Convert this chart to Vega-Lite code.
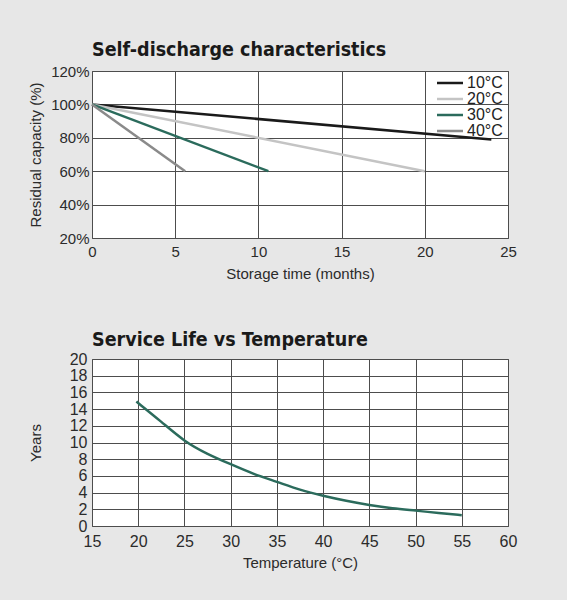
{
  "$schema": "https://vega.github.io/schema/vega-lite/v6.json",
  "background": "#e7e7e7",
  "padding": {"left": 27, "top": 39, "right": 61, "bottom": 29},
  "spacing": 121,
  "bounds": "flush",
  "config": {
    "font": "Liberation Sans",
    "view": {"fill": "white", "stroke": "#555", "strokeWidth": 1},
    "axis": {
      "grid": true,
      "gridColor": "#4d4d4d",
      "gridOpacity": 1,
      "gridWidth": 1,
      "domain": false,
      "ticks": false,
      "labelFlush": false,
      "labelFont": "Liberation Sans",
      "labelFontSize": 15,
      "labelColor": "#2b2b2b",
      "titleFont": "Liberation Sans",
      "titleFontSize": 15,
      "titleFontWeight": "normal",
      "titleColor": "#2b2b2b"
    },
    "title": {
      "font": "DejaVu Sans Condensed",
      "fontSize": 19.5,
      "fontWeight": "bold",
      "color": "#1a1a1a",
      "anchor": "start",
      "frame": "group",
      "baseline": "alphabetic",
      "offset": 4
    }
  },
  "vconcat": [
    {
      "title": "Self-discharge characteristics",
      "width": 416,
      "height": 167,
      "data": {
        "values": [
          {"series": "10°C", "months": 0, "capacity": 100},
          {"series": "10°C", "months": 24, "capacity": 79},
          {"series": "20°C", "months": 0, "capacity": 100},
          {"series": "20°C", "months": 20, "capacity": 60},
          {"series": "30°C", "months": 0, "capacity": 100},
          {"series": "30°C", "months": 10.6, "capacity": 60},
          {"series": "40°C", "months": 0, "capacity": 100},
          {"series": "40°C", "months": 5.6, "capacity": 60}
        ]
      },
      "mark": {"type": "line", "strokeWidth": 2.5},
      "encoding": {
        "x": {
          "field": "months",
          "type": "quantitative",
          "scale": {"domain": [0, 25], "nice": false},
          "axis": {
            "values": [0, 5, 10, 15, 20, 25],
            "labelPadding": 6,
            "title": "Storage time (months)",
            "titleBaseline": "alphabetic",
            "titleY": 40
          }
        },
        "y": {
          "field": "capacity",
          "type": "quantitative",
          "scale": {"domain": [20, 120], "nice": false, "zero": false},
          "axis": {
            "values": [20, 40, 60, 80, 100, 120],
            "labelExpr": "datum.value + '%'",
            "labelPadding": 3,
            "title": "Residual capacity (%)",
            "titleBaseline": "middle",
            "titleX": -57,
            "titleY": 83.5
          }
        },
        "color": {
          "field": "series",
          "type": "nominal",
          "scale": {
            "domain": ["10°C", "20°C", "30°C", "40°C"],
            "range": ["#1a1a1a", "#c4c4c4", "#2b6b5c", "#8a8a8a"]
          },
          "legend": {
            "title": null,
            "orient": "none",
            "legendX": 350,
            "legendY": 4,
            "symbolType": "M-2.6,0L2.6,0",
            "symbolSize": 100,
            "symbolStrokeWidth": 2.5,
            "symbolFillColor": "transparent",
            "labelFontSize": 16,
            "labelColor": "#222",
            "labelOffset": 9,
            "rowPadding": -2
          }
        }
      }
    },
    {
      "title": {"text": "Service Life vs Temperature", "offset": 1},
      "width": 416,
      "height": 167,
      "data": {
        "values": [
          {"temp": 19.8, "years": 14.9},
          {"temp": 22.5, "years": 12.5},
          {"temp": 25, "years": 10.1},
          {"temp": 27.5, "years": 8.6},
          {"temp": 30, "years": 7.4},
          {"temp": 32.5, "years": 6.2},
          {"temp": 35, "years": 5.3},
          {"temp": 37.5, "years": 4.3},
          {"temp": 40, "years": 3.6},
          {"temp": 42.5, "years": 3.0},
          {"temp": 45, "years": 2.5},
          {"temp": 47.5, "years": 2.1},
          {"temp": 50, "years": 1.85},
          {"temp": 52.5, "years": 1.55},
          {"temp": 55, "years": 1.3}
        ]
      },
      "mark": {"type": "line", "color": "#2b6b5c", "strokeWidth": 2.5, "interpolate": "basis"},
      "encoding": {
        "x": {
          "field": "temp",
          "type": "quantitative",
          "scale": {"domain": [15, 60], "nice": false, "zero": false},
          "axis": {
            "values": [15, 20, 25, 30, 35, 40, 45, 50, 55, 60],
            "labelPadding": 7,
            "labelFontSize": 16,
            "title": "Temperature (°C)",
            "titleBaseline": "alphabetic",
            "titleY": 41
          }
        },
        "y": {
          "field": "years",
          "type": "quantitative",
          "scale": {"domain": [0, 20], "nice": false},
          "axis": {
            "values": [0, 2, 4, 6, 8, 10, 12, 14, 16, 18, 20],
            "labelPadding": 5,
            "labelFontSize": 16,
            "title": "Years",
            "titleBaseline": "middle",
            "titleX": -57,
            "titleY": 83.5
          }
        }
      }
    }
  ]
}
